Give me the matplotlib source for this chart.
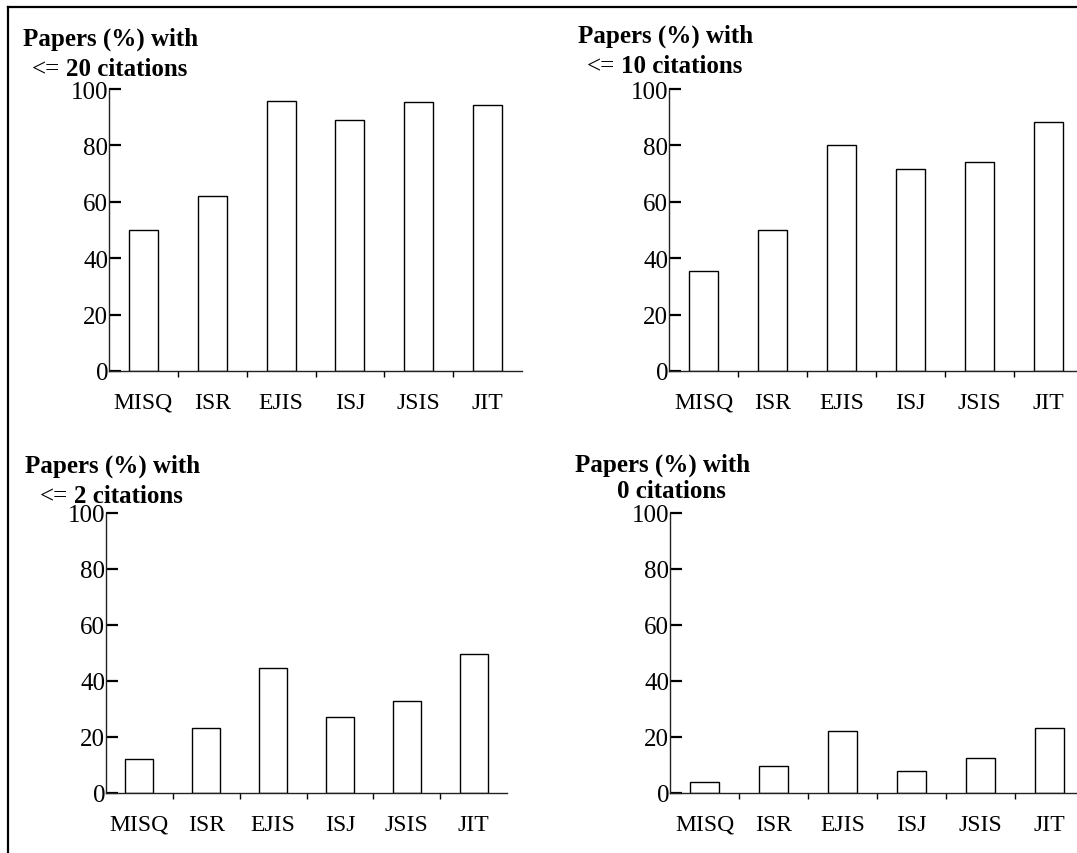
import numpy as np
import matplotlib.pyplot as plt
from matplotlib.lines import Line2D

journals = ["MISQ", "ISR", "EJIS", "ISJ", "JSIS", "JIT"]
le20 = [50, 62, 95.7, 89, 95.3, 94.4]
le10 = [35.4, 50, 80, 71.7, 74.2, 88.4]
le2 = [12, 23.3, 44.8, 27, 33, 49.6]
zero = [4, 9.6, 22, 8, 12.4, 23.3]
yticks = [0, 20, 40, 60, 80, 100]

W, H = 1077, 854
plt.rcParams['font.family'] = ['Liberation Serif', 'DejaVu Serif']

fig = plt.figure(figsize=(W / 100, H / 100), dpi=100)


def px_box(left, right, top, bottom):
    # pixel box -> figure fraction [l, b, w, h]
    return [left / W, 1 - bottom / H, (right - left) / W, (bottom - top) / H]


def draw_panel(box, values):
    ax = fig.add_axes(px_box(*box))
    x = np.arange(len(journals))
    ax.bar(x, values, width=0.42, color="white", edgecolor="black", linewidth=1.0)
    ax.set_xlim(-0.5, len(journals) - 0.5)
    ax.set_ylim(0, 100)
    for s in ["top", "right"]:
        ax.spines[s].set_visible(False)
    for s in ["left", "bottom"]:
        ax.spines[s].set_linewidth(1.0)
        ax.spines[s].set_color("#222222")
    ax.set_yticks(yticks)
    ax.tick_params(axis="y", direction="in", length=8.6, width=1.6, pad=0.5, labelsize=18)
    ax.set_xticks(x)
    ax.set_xticklabels(journals)
    ax.tick_params(axis="x", which="major", length=0, pad=15, labelsize=17)
    ax.set_xticks(x[:-1] + 0.5, minor=True)
    ax.tick_params(axis="x", which="minor", direction="out", length=4.5, width=1.0)
    ax.patch.set_alpha(0)
    return ax


def title(x1, y1, x2, y2, prefix, rest):
    fig.text(x1 / W, 1 - y1 / H, "Papers (%) with", fontsize=18, fontweight="bold",
             ha="left", va="baseline")
    if prefix:
        t = fig.text(x2 / W, 1 - y2 / H, prefix, fontsize=18, ha="left", va="baseline")
        fig.text(0, 0, "")
        plt.annotate(rest, xy=(1, 0), xycoords=t, xytext=(4, 0), textcoords="offset points",
                     fontsize=18, fontweight="bold", ha="left", va="bottom",
                     annotation_clip=False)
    else:
        fig.text(x2 / W, 1 - y2 / H, rest, fontsize=18, fontweight="bold",
                 ha="left", va="baseline")


draw_panel((109, 522, 90, 372), le20)
draw_panel((669, 1083, 90, 372), le10)
draw_panel((106, 507, 514, 794), le2)
draw_panel((670, 1084, 514, 794), zero)

title(23, 46, 32, 76, "<=", "20 citations")
title(578, 43, 587, 73, "<=", "10 citations")
title(25, 473, 40, 503, "<=", "2 citations")
title(575, 472, 617, 498, None, "0 citations")

# frame lines along top and left edges
fig.add_artist(Line2D([7.5 / W, 1], [1 - 7.5 / H, 1 - 7.5 / H], transform=fig.transFigure,
                      color="black", linewidth=1.6))
fig.add_artist(Line2D([7.5 / W, 7.5 / W], [0, 1 - 7.5 / H], transform=fig.transFigure,
                      color="black", linewidth=1.6))

fig.savefig("out.png", dpi=100)
